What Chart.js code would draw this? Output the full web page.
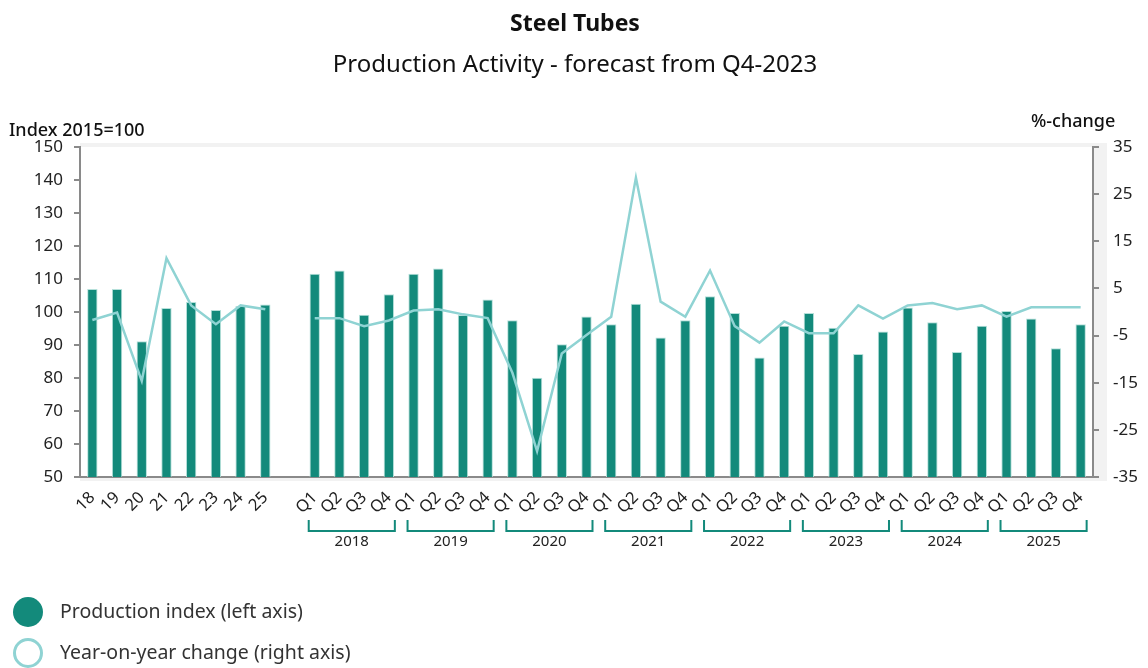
<!DOCTYPE html>
<html>
<head>
<meta charset="utf-8">
<title>Steel Tubes</title>
<script src="https://cdn.jsdelivr.net/npm/chart.js@4.4.0/dist/chart.umd.min.js"></script>
<style>
  html, body { margin: 0; padding: 0; background: #fff; }
  #wrap { width: 1148px; height: 668px; position: relative; }
</style>
</head>
<body>
<div id="wrap"><canvas id="myChart"></canvas></div>
<script>
// annual labels, one empty slot, then quarters 2018-2025
const yearLabels = ["18", "19", "20", "21", "22", "23", "24", "25"];
const quarterYears = ["2018", "2019", "2020", "2021", "2022", "2023", "2024", "2025"];
const quarterLabels = ["Q1", "Q2", "Q3", "Q4"];

const annualIndex = [107, 107, 91.1, 101.2, 103, 100.6, 101.8, 102.3];
const annualChange = [-1.7, -0.1, -14.6, 11.4, 1.4, -2.6, 1.4, 0.6];

const quarterlyIndex = [
  111.6, 112.6, 99.2, 105.4,
  111.6, 113.2, 99.1, 103.8,
  97.5, 80.1, 90.2, 98.6,
  96.3, 102.5, 92.3, 97.5,
  104.8, 99.7, 86.2, 95.8,
  99.7, 95.2, 87.3, 94.1,
  101.4, 96.9, 87.9, 95.8,
  100.3, 98.0, 89.0, 96.3
];
const quarterlyChange = [
  -1.3, -1.3, -3.0, -1.8,
  0.3, 0.6, -0.5, -1.3,
  -12.9, -29.5, -8.8, -4.9,
  -1.0, 28.5, 2.2, -1.0,
  8.8, -3.0, -6.5, -2.0,
  -4.5, -4.5, 1.4, -1.4,
  1.4, 1.9, 0.6, 1.4,
  -1.0, 1.0, 1.0, 1.0
];

const leftTicks = [50, 60, 70, 80, 90, 100, 110, 120, 130, 140, 150];
const rightTicks = [-35, -25, -15, -5, 5, 15, 25, 35];

const TEAL = "#138a7b";
const LIGHT = "#8fd3d3";
const FONT = "'Noto Sans', sans-serif";

const labels = [...yearLabels, ""];
quarterYears.forEach(() => quarterLabels.forEach(q => labels.push(q)));
const barData = [...annualIndex, null, ...quarterlyIndex];
const lineData = [...annualChange, null, ...quarterlyChange];
const firstQuarter = yearLabels.length + 1;

// grey drop shadow behind the plot area
const frame = {
  id: "frame",
  beforeDraw(chart) {
    const { ctx, chartArea: a } = chart;
    ctx.save();
    ctx.fillStyle = "#f2f2f2";
    ctx.fillRect(a.left, a.top - 4, a.right - a.left + 14, a.bottom - a.top + 8);
    ctx.fillStyle = "#fff";
    ctx.fillRect(a.left, a.top, a.right - a.left, a.bottom - a.top);
    ctx.restore();
  }
};

// titles, axis captions, year brackets and legend
const extras = {
  id: "extras",
  afterDraw(chart) {
    const { ctx } = chart;
    const x = chart.scales.x;
    ctx.save();
    ctx.fillStyle = "#111";
    ctx.textAlign = "center";
    ctx.textBaseline = "middle";
    ctx.font = "bold 23px " + FONT;
    ctx.fillText("Steel Tubes", 575, 24);
    ctx.font = "24px " + FONT;
    ctx.fillText("Production Activity - forecast from Q4-2023", 575, 65);

    ctx.font = "500 18px " + FONT;
    ctx.textAlign = "left";
    ctx.fillText("Index 2015=100", 9, 131);
    ctx.fillText("%-change", 1031, 122);

    ctx.strokeStyle = TEAL;
    ctx.lineWidth = 2;
    ctx.font = "15px " + FONT;
    ctx.fillStyle = "#222";
    ctx.textAlign = "center";
    quarterYears.forEach((yr, i) => {
      const l = x.getPixelForValue(firstQuarter + i * 4) - 6;
      const r = x.getPixelForValue(firstQuarter + i * 4 + 3) + 6;
      ctx.beginPath();
      ctx.moveTo(l, 520);
      ctx.lineTo(l, 531);
      ctx.lineTo(r, 531);
      ctx.lineTo(r, 520);
      ctx.stroke();
      ctx.fillText(yr, (l + r) / 2, 542);
    });

    ctx.fillStyle = TEAL;
    ctx.beginPath();
    ctx.arc(28, 612, 15, 0, Math.PI * 2);
    ctx.fill();
    ctx.strokeStyle = LIGHT;
    ctx.lineWidth = 3;
    ctx.beginPath();
    ctx.arc(28, 653, 13.5, 0, Math.PI * 2);
    ctx.stroke();
    ctx.fillStyle = "#333";
    ctx.textAlign = "left";
    ctx.font = "19.5px " + FONT;
    ctx.fillText("Production index (left axis)", 60, 612);
    ctx.fillText("Year-on-year change (right axis)", 60, 653);
    ctx.restore();
  }
};

const ctx = document.getElementById("myChart").getContext("2d");
const myChart = new Chart(ctx, {
  data: {
    labels: labels,
    datasets: [
      {
        type: "line",
        label: "Year-on-year change (right axis)",
        data: lineData,
        yAxisID: "y1",
        borderColor: LIGHT,
        borderWidth: 2.5,
        pointRadius: 0,
        spanGaps: false,
        tension: 0,
        order: 0
      },
      {
        type: "bar",
        label: "Production index (left axis)",
        data: barData,
        yAxisID: "y",
        backgroundColor: TEAL,
        borderColor: "#b5e0da",
        borderWidth: { top: 1, left: 1, right: 1, bottom: 0 },
        barPercentage: 0.42,
        categoryPercentage: 1,
        order: 1
      }
    ]
  },
  options: {
    responsive: true,
    maintainAspectRatio: false,
    animation: false,
    layout: { padding: { top: 147, left: 0, right: 0, bottom: 0 } },
    plugins: {
      legend: { display: false },
      tooltip: { enabled: false }
    },
    scales: {
      x: {
        offset: true,
        afterFit(scale) { scale.height = 191; },
        grid: { display: false },
        border: { color: "#8a8a8a", width: 2 },
        ticks: {
          autoSkip: false,
          maxRotation: 45,
          minRotation: 45,
          padding: 3,
          color: "#222",
          font: { family: FONT, size: 16.5 }
        }
      },
      y: {
        position: "left",
        min: 50,
        max: 150,
        afterFit(scale) { scale.width = 80; },
        afterBuildTicks(scale) { scale.ticks = leftTicks.map(v => ({ value: v })); },
        grid: { drawOnChartArea: false, color: "#8a8a8a", tickLength: 6, lineWidth: 2 },
        border: { color: "#8a8a8a", width: 2 },
        ticks: { color: "#222", padding: 11, font: { family: FONT, size: 17 } }
      },
      y1: {
        position: "right",
        min: -35,
        max: 35,
        afterFit(scale) { scale.width = 55; },
        afterBuildTicks(scale) { scale.ticks = rightTicks.map(v => ({ value: v })); },
        grid: { drawOnChartArea: false, color: "#8a8a8a", tickLength: 6, lineWidth: 2 },
        border: { color: "#8a8a8a", width: 2 },
        ticks: { color: "#222", padding: 14, font: { family: FONT, size: 17 } }
      }
    }
  },
  plugins: [frame, extras]
});
</script>
</body>
</html>
